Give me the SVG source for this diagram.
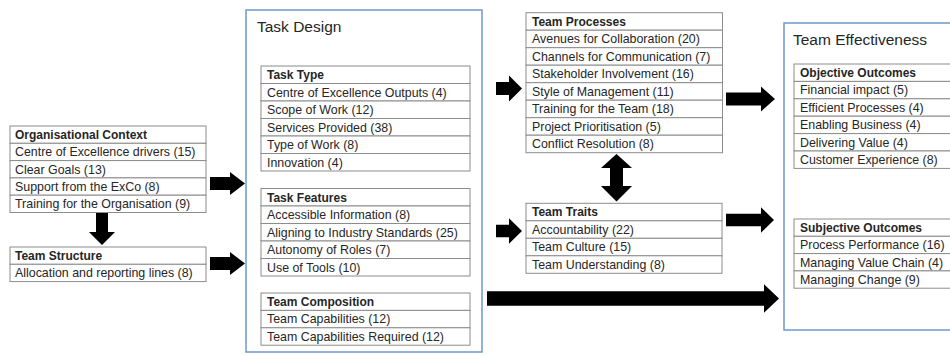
<svg xmlns="http://www.w3.org/2000/svg" width="950" height="356" viewBox="0 0 950 356">
<style>
text{font-family:"Liberation Sans",Arial,sans-serif;fill:#262626}
.r{font-size:12.4px}
.h{font-size:12px;font-weight:bold}
.t{font-size:15.5px}
.cell{fill:#fff;stroke:#8c8c8c;stroke-width:1}
.outer{fill:#fff;stroke:#6e98cf;stroke-width:1.5}
.arrow{fill:#000}
</style>
<rect width="950" height="356" fill="#fff"/>

<g id="task-design">
<rect class="outer" x="246" y="10" width="236" height="342"/>
<text class="t" x="257" y="32">Task Design</text>
</g>

<g id="team-effectiveness">
<rect class="outer" x="784" y="23" width="180" height="307"/>
<text class="t" x="793" y="45">Team Effectiveness</text>
</g>

<g id="organisational-context">
<rect class="cell" x="10" y="126" width="196" height="17.3"/>
<rect class="cell" x="10" y="143.3" width="196" height="17.3"/>
<rect class="cell" x="10" y="160.6" width="196" height="17.3"/>
<rect class="cell" x="10" y="177.9" width="196" height="17.3"/>
<rect class="cell" x="10" y="195.2" width="196" height="17.3"/>
<text class="h" x="15" y="139">Organisational Context</text>
<text class="r" x="15" y="156.3">Centre of Excellence drivers (15)</text>
<text class="r" x="15" y="173.6">Clear Goals (13)</text>
<text class="r" x="15" y="190.9">Support from the ExCo (8)</text>
<text class="r" x="15" y="208.2">Training for the Organisation (9)</text>
</g>

<g id="team-structure">
<rect class="cell" x="10" y="247" width="196" height="17.3"/>
<rect class="cell" x="10" y="264.3" width="196" height="17.3"/>
<text class="h" x="15" y="260">Team Structure</text>
<text class="r" x="15" y="277.3">Allocation and reporting lines (8)</text>
</g>

<g id="task-type">
<rect class="cell" x="261" y="66" width="209" height="17.5"/>
<rect class="cell" x="261" y="83.5" width="209" height="17.5"/>
<rect class="cell" x="261" y="101" width="209" height="17.5"/>
<rect class="cell" x="261" y="118.5" width="209" height="17.5"/>
<rect class="cell" x="261" y="136" width="209" height="17.5"/>
<rect class="cell" x="261" y="153.5" width="209" height="17.5"/>
<text class="h" x="267" y="79">Task Type</text>
<text class="r" x="267" y="96.5">Centre of Excellence Outputs (4)</text>
<text class="r" x="267" y="114">Scope of Work (12)</text>
<text class="r" x="267" y="131.5">Services Provided (38)</text>
<text class="r" x="267" y="149">Type of Work (8)</text>
<text class="r" x="267" y="166.5">Innovation (4)</text>
</g>

<g id="task-features">
<rect class="cell" x="261" y="188.5" width="209" height="17.5"/>
<rect class="cell" x="261" y="206" width="209" height="17.5"/>
<rect class="cell" x="261" y="223.5" width="209" height="17.5"/>
<rect class="cell" x="261" y="241" width="209" height="17.5"/>
<rect class="cell" x="261" y="258.5" width="209" height="17.5"/>
<text class="h" x="267" y="201.5">Task Features</text>
<text class="r" x="267" y="219">Accessible Information (8)</text>
<text class="r" x="267" y="236.5">Aligning to Industry Standards (25)</text>
<text class="r" x="267" y="254">Autonomy of Roles (7)</text>
<text class="r" x="267" y="271.5">Use of Tools (10)</text>
</g>

<g id="team-composition">
<rect class="cell" x="261" y="293" width="209" height="17.4"/>
<rect class="cell" x="261" y="310.4" width="209" height="17.4"/>
<rect class="cell" x="261" y="327.8" width="209" height="17.4"/>
<text class="h" x="267" y="306">Team Composition</text>
<text class="r" x="267" y="323.4">Team Capabilities (12)</text>
<text class="r" x="267" y="340.8">Team Capabilities Required (12)</text>
</g>

<g id="team-processes">
<rect class="cell" x="526" y="12.7" width="196.5" height="17.5"/>
<rect class="cell" x="526" y="30.2" width="196.5" height="17.5"/>
<rect class="cell" x="526" y="47.7" width="196.5" height="17.5"/>
<rect class="cell" x="526" y="65.2" width="196.5" height="17.5"/>
<rect class="cell" x="526" y="82.7" width="196.5" height="17.5"/>
<rect class="cell" x="526" y="100.2" width="196.5" height="17.5"/>
<rect class="cell" x="526" y="117.7" width="196.5" height="17.5"/>
<rect class="cell" x="526" y="135.2" width="196.5" height="17.5"/>
<text class="h" x="532" y="25.7">Team Processes</text>
<text class="r" x="532" y="43.2">Avenues for Collaboration (20)</text>
<text class="r" x="532" y="60.7">Channels for Communication (7)</text>
<text class="r" x="532" y="78.2">Stakeholder Involvement (16)</text>
<text class="r" x="532" y="95.7">Style of Management (11)</text>
<text class="r" x="532" y="113.2">Training for the Team (18)</text>
<text class="r" x="532" y="130.7">Project Prioritisation (5)</text>
<text class="r" x="532" y="148.2">Conflict Resolution (8)</text>
</g>

<g id="team-traits">
<rect class="cell" x="526" y="203.3" width="196" height="17.5"/>
<rect class="cell" x="526" y="220.8" width="196" height="17.5"/>
<rect class="cell" x="526" y="238.3" width="196" height="17.5"/>
<rect class="cell" x="526" y="255.8" width="196" height="17.5"/>
<text class="h" x="532" y="216.3">Team Traits</text>
<text class="r" x="532" y="233.8">Accountability (22)</text>
<text class="r" x="532" y="251.3">Team Culture (15)</text>
<text class="r" x="532" y="268.8">Team Understanding (8)</text>
</g>

<g id="objective-outcomes">
<rect class="cell" x="794" y="64" width="170" height="17.4"/>
<rect class="cell" x="794" y="81.4" width="170" height="17.4"/>
<rect class="cell" x="794" y="98.8" width="170" height="17.4"/>
<rect class="cell" x="794" y="116.2" width="170" height="17.4"/>
<rect class="cell" x="794" y="133.6" width="170" height="17.4"/>
<rect class="cell" x="794" y="151" width="170" height="17.4"/>
<text class="h" x="800" y="77">Objective Outcomes</text>
<text class="r" x="800" y="94.4">Financial impact (5)</text>
<text class="r" x="800" y="111.8">Efficient Processes (4)</text>
<text class="r" x="800" y="129.2">Enabling Business (4)</text>
<text class="r" x="800" y="146.6">Delivering Value (4)</text>
<text class="r" x="800" y="164">Customer Experience (8)</text>
</g>

<g id="subjective-outcomes">
<rect class="cell" x="794" y="219" width="170" height="17.3"/>
<rect class="cell" x="794" y="236.3" width="170" height="17.3"/>
<rect class="cell" x="794" y="253.6" width="170" height="17.3"/>
<rect class="cell" x="794" y="270.9" width="170" height="17.3"/>
<text class="h" x="800" y="232">Subjective Outcomes</text>
<text class="r" x="800" y="249.3">Process Performance (16)</text>
<text class="r" x="800" y="266.6">Managing Value Chain (4)</text>
<text class="r" x="800" y="283.9">Managing Change (9)</text>
</g>

<g id="connectors">
<polygon class="arrow" points="210,177 230,177 230,172 245,183.5 230,195 230,190 210,190"/>
<polygon class="arrow" points="210,257 230,257 230,252 245,263.5 230,275 230,270 210,270"/>
<polygon class="arrow" points="96,213 108,213 108,232 115,232 102,245 89,232 96,232"/>
<polygon class="arrow" points="496,82 509,82 509,75.5 522,88.5 509,101.5 509,95 496,95"/>
<polygon class="arrow" points="496,224.8 509,224.8 509,218.3 522,231 509,243.7 509,237.2 496,237.2"/>
<polygon class="arrow" points="726,92.6 761,92.6 761,86.5 775,99 761,111.5 761,105.4 726,105.4"/>
<polygon class="arrow" points="726,213.7 761,213.7 761,207.3 774,220 761,232.7 761,226.3 726,226.3"/>
<polygon class="arrow" points="487,291.3 764,291.3 764,284.2 779,298.5 764,312.8 764,305.7 487,305.7"/>
<polygon class="arrow" points="616.5,154 632,168 623,168 623,186 632,186 616.5,201.5 601,186 610,186 610,168 601,168"/>
</g>
</svg>
